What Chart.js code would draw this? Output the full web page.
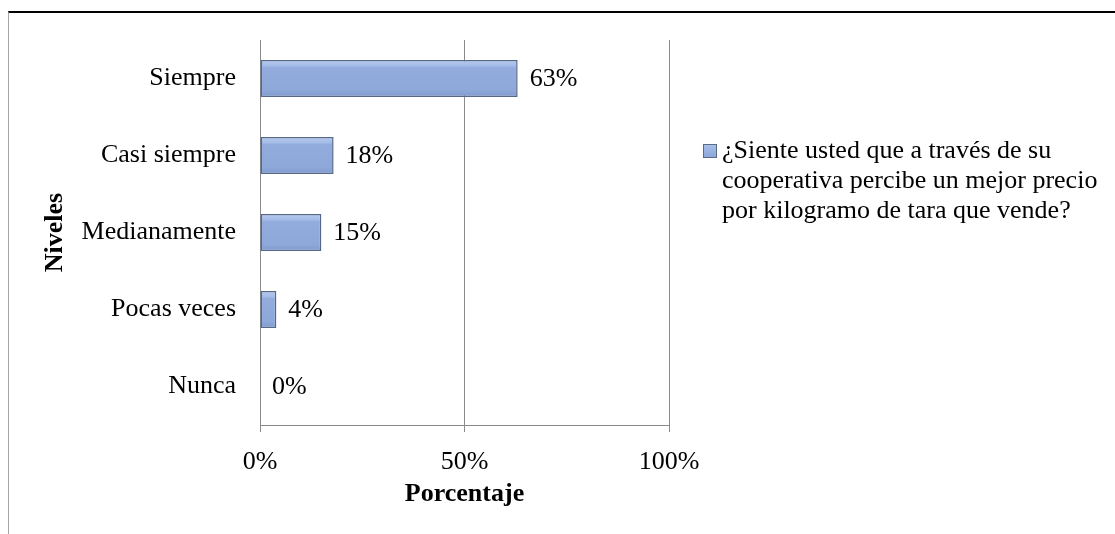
<!DOCTYPE html>
<html>
<head>
<meta charset="utf-8">
<script src="https://cdn.jsdelivr.net/npm/chart.js@4/dist/chart.umd.min.js"></script>
<style>
  html, body { margin: 0; padding: 0; background: #fff; }
  .wrap { position: relative; width: 1115px; height: 534px; }
  .frame {
    position: absolute; left: 8px; top: 11px; right: 0; bottom: 0;
    border-top: 2px solid #000; border-left: 1px solid #a6a6a6;
  }
  #myChart { position: absolute; left: 0; top: 0; }
</style>
</head>
<body>
<div class="wrap">
  <div class="frame"></div>
  <canvas id="myChart" width="1115" height="534"></canvas>
</div>
<script>
const niveles = ['Siempre', 'Casi siempre', 'Medianamente', 'Pocas veces', 'Nunca'];
const porcentajes = [63, 18, 15, 4, 0];
const xTicks = [0, 50, 100];
const legendLines = [
  '¿Siente usted que a través de su',
  'cooperativa percibe un mejor precio',
  'por kilogramo de tara que vende?'
];

const serif = 'Liberation Serif, Times New Roman, serif';
const gridColor = '#8a8a8a';

// bevel look on each bar: light band on top, darker bottom edge
const bevelPlugin = {
  id: 'bevel',
  beforeDatasetsDraw(chart) {
    const ctx = chart.ctx;
    chart.getDatasetMeta(0).data.forEach(function(bar) {
      const top = bar.y - bar.height / 2;
      const g = ctx.createLinearGradient(0, top, 0, top + bar.height);
      g.addColorStop(0, '#b6caef');
      g.addColorStop(0.16, '#a3bbe7');
      g.addColorStop(0.2, '#93acdd');
      g.addColorStop(0.82, '#8ea8da');
      g.addColorStop(1, '#7f9acd');
      bar.options = Object.assign({}, bar.options, { backgroundColor: g });
    });
  }
};

// value labels to the right of the bars
const valueLabels = {
  id: 'valueLabels',
  afterDatasetsDraw(chart) {
    const ctx = chart.ctx;
    ctx.save();
    ctx.font = '26px ' + serif;
    ctx.fillStyle = '#000';
    ctx.textBaseline = 'middle';
    chart.getDatasetMeta(0).data.forEach(function(bar, i) {
      ctx.fillText(porcentajes[i] + '%', bar.x + 12, bar.y + 1);
    });
    ctx.restore();
  }
};

// legend on the right, wrapped over three lines
const sideLegend = {
  id: 'sideLegend',
  afterDraw(chart) {
    const ctx = chart.ctx;
    const x = chart.chartArea.right + 34;
    const y = 144;
    ctx.save();
    const g = ctx.createLinearGradient(0, y, 0, y + 14);
    g.addColorStop(0, '#a9c0ea');
    g.addColorStop(1, '#8aa5d8');
    ctx.fillStyle = g;
    ctx.fillRect(x, y, 14, 14);
    ctx.strokeStyle = '#5a6b86';
    ctx.lineWidth = 1;
    ctx.strokeRect(x + 0.5, y + 0.5, 13, 13);
    ctx.font = '26px ' + serif;
    ctx.fillStyle = '#000';
    ctx.textBaseline = 'alphabetic';
    legendLines.forEach(function(line, i) {
      ctx.fillText(line, x + 19, y + 14 + i * 30);
    });
    ctx.restore();
  }
};

const ctx = document.querySelector('#myChart').getContext('2d');

// eslint-disable-next-line no-undef
const chart = new Chart(ctx, {
  type: 'bar',
  data: {
    labels: niveles,
    datasets: [{
      label: legendLines.join(' '),
      data: porcentajes,
      backgroundColor: '#8ea8da',
      borderColor: '#55678a',
      borderWidth: 1.5,
      borderSkipped: false,
      barPercentage: 0.48,
      categoryPercentage: 1,
    }]
  },
  options: {
    indexAxis: 'y',
    responsive: false,
    animation: false,
    layout: { padding: { left: 0, top: 40, right: 446, bottom: 0 } },
    plugins: {
      legend: { display: false },
      tooltip: { enabled: false },
    },
    scales: {
      x: {
        min: 0,
        max: 100,
        afterBuildTicks(scale) {
          scale.ticks = xTicks.map(function(v) { return { value: v }; });
        },
        afterFit(scale) { scale.height = 109; },
        grid: { color: gridColor, lineWidth: 1, tickLength: 7 },
        border: { display: true, color: gridColor },
        ticks: {
          padding: 15,
          color: '#000',
          font: { family: serif, size: 26 },
          callback: function(v) { return v + '%'; },
        },
        title: {
          display: true,
          text: 'Porcentaje',
          color: '#000',
          font: { family: serif, size: 26, weight: 'bold' },
          padding: { top: 0, bottom: 24 },
        },
      },
      y: {
        afterFit(scale) { scale.width = 260; },
        grid: { display: false, drawTicks: false },
        border: { display: false },
        ticks: {
          padding: 24,
          color: '#000',
          font: { family: serif, size: 26 },
        },
        title: {
          display: true,
          text: 'Niveles',
          color: '#000',
          font: { family: serif, size: 26, weight: 'bold' },
          padding: { top: 40, bottom: 0 },
        },
      },
    },
  },
  plugins: [bevelPlugin, valueLabels, sideLegend],
});
</script>
</body>
</html>
